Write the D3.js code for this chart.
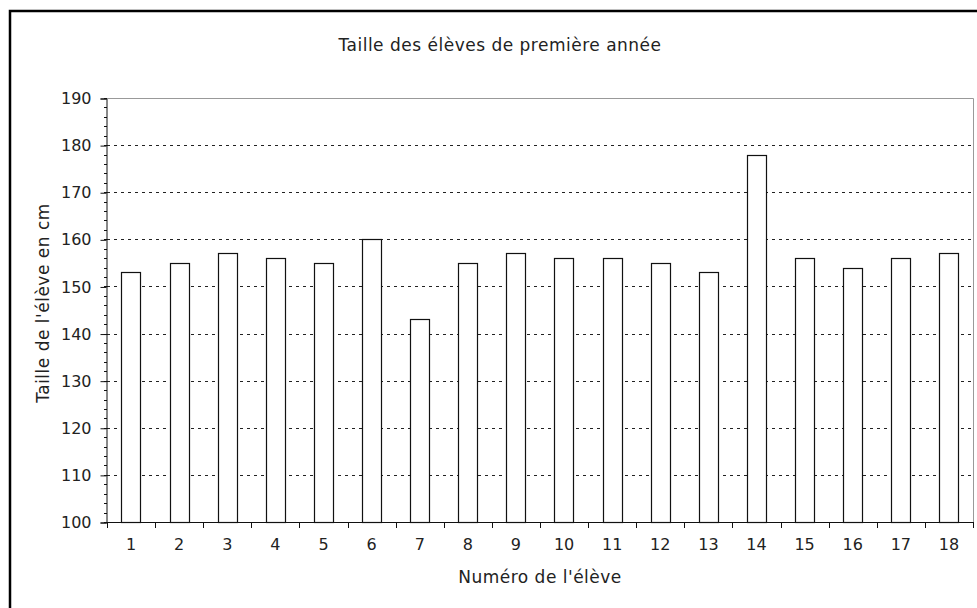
<!DOCTYPE html>
<html>
<head>
<meta charset="utf-8">
<script src="https://cdn.jsdelivr.net/npm/d3@7"></script>
<style>
  body { margin: 0; background: #fff; }
  svg { display: block; }
  text { font-family: "DejaVu Sans", Verdana, sans-serif; fill: #222; }
</style>
</head>
<body>
<svg id="chart"></svg>
<script>
// data
var eleves = ["1", "2", "3", "4", "5", "6", "7", "8", "9", "10", "11", "12", "13", "14", "15", "16", "17", "18"];
var tailles = [153, 155, 157, 156, 155, 160, 143, 155, 157, 156, 156, 155, 153, 178, 156, 154, 156, 157];
var yTicks = [100, 110, 120, 130, 140, 150, 160, 170, 180, 190];

var width = 977;
var height = 608;
var margin = { top: 98, right: 4, bottom: 86, left: 107 };

var svg = d3.select("#chart").attr("width", width).attr("height", height);

// outer frame
svg.append("rect")
  .attr("x", 10).attr("y", 11)
  .attr("width", width + 20).attr("height", height + 20)
  .attr("fill", "none").attr("stroke", "#000").attr("stroke-width", 2.5);

var x = d3.scaleBand()
  .domain(eleves)
  .range([margin.left, width - margin.right]);

var y = d3.scaleLinear()
  .domain([100, 190])
  .range([height - margin.bottom, margin.top]);

// grid lines
svg.append("g")
  .selectAll("line")
  .data(yTicks.filter(function (d) { return d > 100 && d < 190; }))
  .enter()
  .append("line")
  .attr("x1", margin.left).attr("x2", width - margin.right)
  .attr("y1", function (d) { return Math.round(y(d)) + 0.5; })
  .attr("y2", function (d) { return Math.round(y(d)) + 0.5; })
  .attr("stroke", "#222")
  .attr("stroke-dasharray", "3,4");

// top and right border of plot
var x1 = width - margin.right;
svg.append("path")
  .attr("d", "M" + margin.left + "," + (Math.round(y(190)) + 0.5) + "H" + (x1 + 0.5) + "V" + y(100))
  .attr("fill", "none").attr("stroke", "#999");

// bars
var bw = x.bandwidth() * 0.4;
svg.append("g")
  .selectAll("rect")
  .data(tailles)
  .enter()
  .append("rect")
  .attr("x", function (d, i) { return Math.round(x(eleves[i]) + x.bandwidth() / 2 - bw / 2) + 0.5; })
  .attr("y", function (d) { return Math.round(y(d)) + 0.5; })
  .attr("width", Math.round(bw))
  .attr("height", function (d) { return Math.round(y(100)) - Math.round(y(d)); })
  .attr("fill", "#fff")
  .attr("stroke", "#111")
  .attr("stroke-width", 1.2);

// y axis minor ticks
var minor = d3.range(100, 191, 2);
svg.append("g")
  .selectAll("line")
  .data(minor)
  .enter()
  .append("line")
  .attr("x1", margin.left - 3).attr("x2", margin.left)
  .attr("y1", function (d) { return Math.round(y(d)) + 0.5; })
  .attr("y2", function (d) { return Math.round(y(d)) + 0.5; })
  .attr("stroke", "#111");

// y axis
var yAxis = svg.append("g")
  .attr("transform", "translate(" + (margin.left - 0.5) + ",0.5)")
  .call(d3.axisLeft(y).tickValues(yTicks).tickSize(6).tickPadding(9));
yAxis.select(".domain").attr("stroke", "#111");
yAxis.selectAll(".tick line").attr("stroke", "#111");
yAxis.selectAll(".tick text")
  .attr("font-size", 16)
  .attr("fill", "#222")
  .style("font-family", "DejaVu Sans, Verdana, sans-serif");

// x axis
var xAxis = svg.append("g")
  .attr("transform", "translate(0," + (Math.round(y(100)) + 0.5) + ")")
  .call(d3.axisBottom(x).tickSize(0).tickPadding(16));
xAxis.select(".domain").remove();
xAxis.selectAll(".tick text")
  .attr("font-size", 16)
  .attr("fill", "#222")
  .style("font-family", "DejaVu Sans, Verdana, sans-serif");

// x boundary ticks
svg.append("line")
  .attr("x1", margin.left).attr("x2", width - margin.right)
  .attr("y1", Math.round(y(100)) + 0.5).attr("y2", Math.round(y(100)) + 0.5)
  .attr("stroke", "#111");
svg.append("g")
  .selectAll("line")
  .data(d3.range(eleves.length + 1))
  .enter()
  .append("line")
  .attr("x1", function (i) { return Math.round(margin.left + i * x.step()) + 0.5; })
  .attr("x2", function (i) { return Math.round(margin.left + i * x.step()) + 0.5; })
  .attr("y1", Math.round(y(100)))
  .attr("y2", Math.round(y(100)) + 6)
  .attr("stroke", "#111");

// titles
svg.append("text")
  .attr("x", 500)
  .attr("y", 51)
  .attr("text-anchor", "middle")
  .attr("font-size", 17)
  .attr("letter-spacing", 0.5)
  .text("Taille des élèves de première année");

svg.append("text")
  .attr("x", (margin.left + width - margin.right) / 2)
  .attr("y", 583)
  .attr("text-anchor", "middle")
  .attr("font-size", 17)
  .attr("letter-spacing", 0.5)
  .text("Numéro de l'élève");

svg.append("text")
  .attr("transform", "translate(49,303)rotate(-90)")
  .attr("text-anchor", "middle")
  .attr("font-size", 17)
  .attr("letter-spacing", 0.5)
  .text("Taille de l'élève en cm");
</script>
</body>
</html>
